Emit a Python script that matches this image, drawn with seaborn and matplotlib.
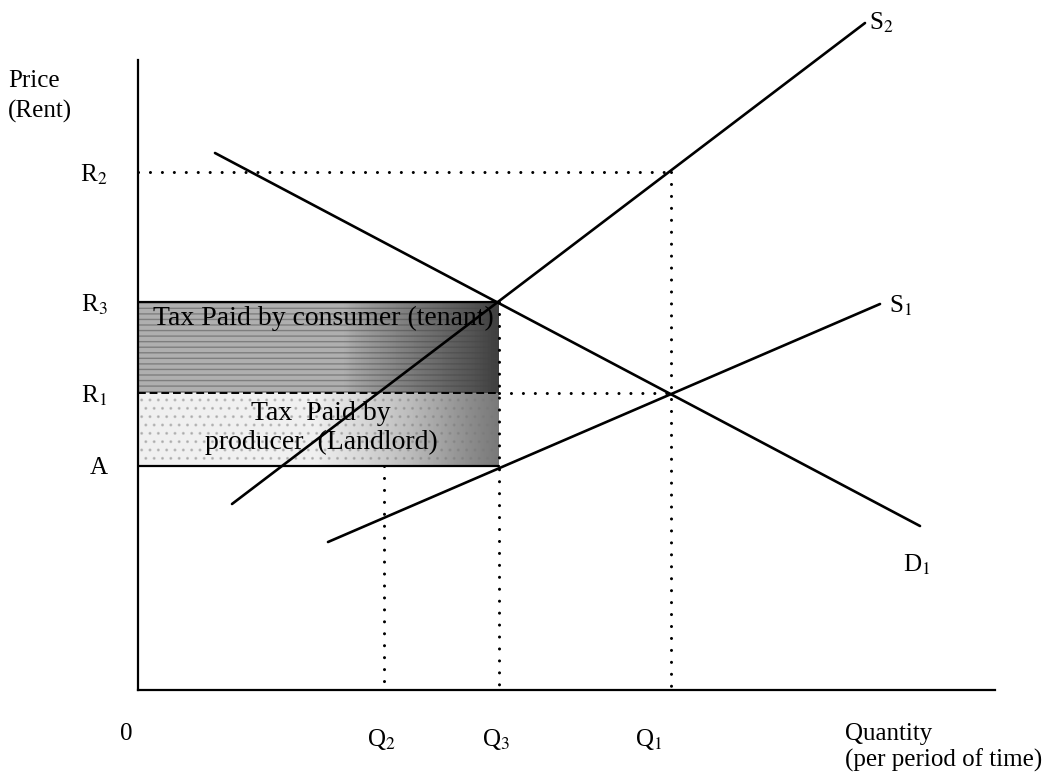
import numpy as np
import pandas as pd
import matplotlib
matplotlib.use("Agg")
import matplotlib.pyplot as plt
import seaborn as sns

# quantities and prices marked on the axes
q_labels = ["Q$_2$", "Q$_3$", "Q$_1$"]
q_values = [246, 361, 533]
r_labels = ["R$_2$", "R$_3$", "R$_1$", "A"]
r_values = [518, 388, 297, 224]

# curve end points (quantity, price)
d1_x = [77, 782]
d1_y = [537, 164]
s2_x = [94, 727]
s2_y = [186, 667]
s1_x = [190, 742]
s1_y = [148, 386]

Q2, Q3, Q1 = q_values
R2, R3, R1, A = r_values

curves = pd.DataFrame({
    "q": d1_x + s2_x + s1_x,
    "p": d1_y + s2_y + s1_y,
    "curve": ["D1"] * 2 + ["S2"] * 2 + ["S1"] * 2,
})

sns.set_theme(style="white")
plt.rcParams["font.family"] = ["Liberation Serif", "DejaVu Serif"]
plt.rcParams["mathtext.fontset"] = "stix"
plt.rcParams["text.color"] = "black"
plt.rcParams["ytick.color"] = "black"

fig = plt.figure(figsize=(10.59, 7.74), dpi=100)
ax = fig.add_axes([138 / 1059, 84 / 774, 857 / 1059, 630 / 774])

# shaded tax wedge (scan-like grey texture)
upper = np.concatenate([np.full(35, 0.42), np.linspace(0.45, 0.8, 25)])[None, :]
lower = np.concatenate([np.full(30, 0.12), np.linspace(0.15, 0.6, 30)])[None, :]
ax.imshow(upper, extent=(0, Q3, R1, R3), cmap="Greys", vmin=0, vmax=1,
          aspect="auto", interpolation="bicubic", zorder=0)
ax.imshow(lower, extent=(0, Q3, A, R1), cmap="Greys", vmin=0, vmax=1,
          aspect="auto", interpolation="bicubic", zorder=0)
ax.fill_between([0, Q3], R1, R3, facecolor="none", edgecolor="#444444",
                hatch="---", linewidth=0, alpha=0.45, zorder=0.5)
ax.fill_between([0, Q3], A, R1, facecolor="none", edgecolor="#777777",
                hatch="..", linewidth=0, alpha=0.35, zorder=0.5)
ax.set_xlim(0, 857)
ax.set_ylim(0, 630)

# box outline
ax.plot([0, Q3], [R3, R3], color="black", lw=1.6)
ax.plot([0, Q3], [A, A], color="black", lw=1.6)
ax.plot([0, Q3], [R1, R1], color="black", lw=1.4, linestyle=(0, (4, 2)))

dot = dict(color="black", lw=2.2, linestyle=(0, (0.01, 3.9)), dash_capstyle="round")
ax.plot([0, Q1], [R2, R2], **dot)
ax.plot([Q1, Q1], [R2, 0], **dot)
ax.plot([Q3, Q1], [R1, R1], **dot)
ax.plot([Q3, Q3], [R3, 0], **dot)
ax.plot([Q2, Q2], [A, 0], **dot)

for name, grp in curves.groupby("curve"):
    sns.lineplot(data=grp, x="q", y="p", ax=ax, color="black", lw=1.9,
                 estimator=None, sort=False, clip_on=False, legend=False)

fs = 18
ax.text(731, 667, "S$_2$", fontsize=fs, ha="left", va="center", clip_on=False)
ax.text(751, 384, "S$_1$", fontsize=fs, ha="left", va="center")
ax.text(765, 125, "D$_1$", fontsize=fs, ha="left", va="center")

ax.text(Q3 / 2 + 5, R3 - 16, "Tax Paid by consumer (tenant)", fontsize=20,
        ha="center", va="center")
ax.text(183, R1 - 20, "Tax  Paid by", fontsize=20, ha="center", va="center")
ax.text(183, R1 - 49, "producer  (Landlord)", fontsize=20, ha="center", va="center")

ax.set_yticks(r_values)
ax.set_yticklabels(r_labels, fontsize=fs)
ax.tick_params(axis="y", length=0, pad=22)
ax.set_xticks([])
ax.set_xlabel("")
ax.set_ylabel("")

ax.text(-12, -44, "0", fontsize=fs, ha="center", va="center", clip_on=False)
for lab, q, off in zip(q_labels, q_values, [-3, -3, -22]):
    ax.text(q + off, -49, lab, fontsize=fs, ha="center", va="center", clip_on=False)
ax.text(707, -44, "Quantity", fontsize=fs, ha="left", va="center", clip_on=False)
ax.text(707, -70, "(per period of time)", fontsize=fs, ha="left", va="center", clip_on=False)
ax.text(-130, 609, "Price", fontsize=fs, ha="left", va="center", clip_on=False)
ax.text(-130, 579, "(Rent)", fontsize=fs, ha="left", va="center", clip_on=False)

for side in ["top", "right"]:
    ax.spines[side].set_visible(False)
for side in ["left", "bottom"]:
    ax.spines[side].set_color("black")
    ax.spines[side].set_linewidth(1.6)

fig.savefig("out.png", dpi=100)
